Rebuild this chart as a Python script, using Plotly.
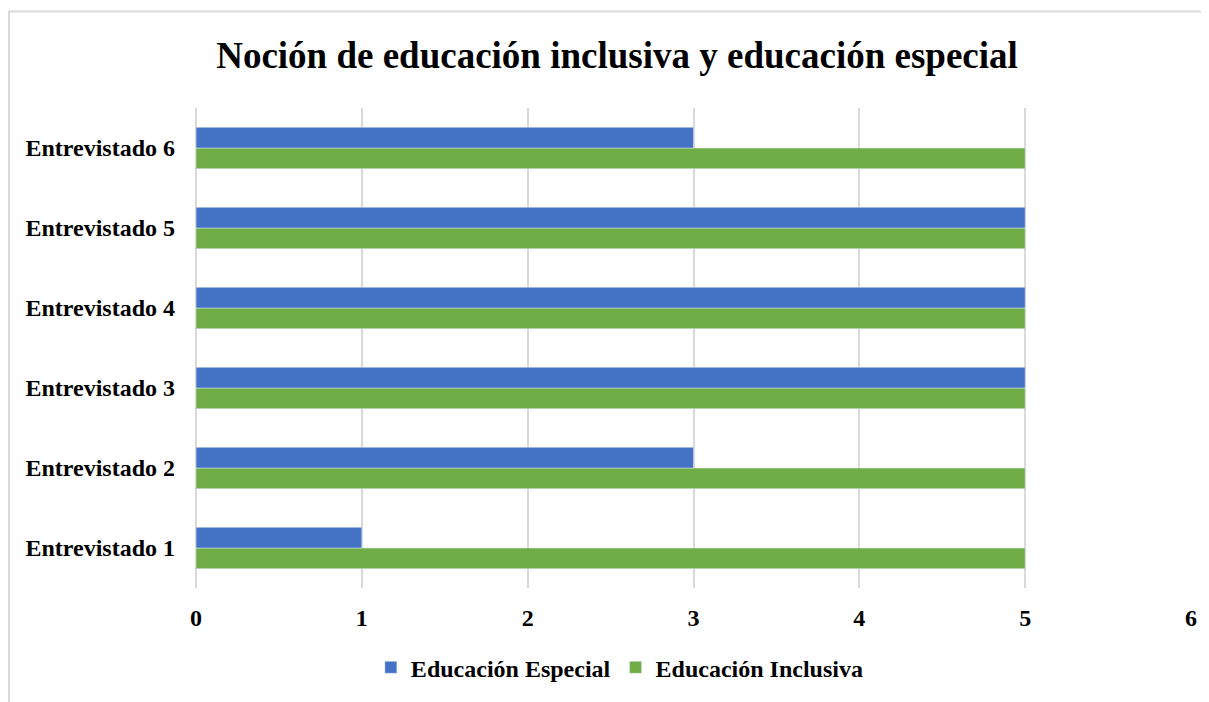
import plotly.graph_objects as go

categories = ["Entrevistado 1", "Entrevistado 2", "Entrevistado 3",
              "Entrevistado 4", "Entrevistado 5", "Entrevistado 6"]
especial = [1, 3, 5, 5, 5, 3]
inclusiva = [5, 5, 5, 5, 5, 5]
x_ticks = [0, 1, 2, 3, 4, 5, 6]

FONT = "Liberation Serif, Times New Roman, serif"

W, H = 1201, 694

fig = go.Figure()
fig.add_trace(go.Bar(
    y=categories, x=inclusiva, orientation="h", name="Educación Inclusiva",
    marker=dict(color="#70AD47"), legendrank=2,
))
fig.add_trace(go.Bar(
    y=categories, x=especial, orientation="h", name="Educación Especial",
    marker=dict(color="#4472C4"), legendrank=1,
))

fig.update_layout(
    width=W, height=H,
    margin=dict(l=188, r=18, t=100, b=112),
    paper_bgcolor="white", plot_bgcolor="white",
    barmode="group", bargap=0.483, bargroupgap=0,
    font=dict(family=FONT, color="black", size=24, weight="bold"),
    title=dict(text="Noción de educación inclusiva y educación especial",
               font=dict(family=FONT, size=37, color="black", weight="bold"),
               x=609 / W, xref="container", xanchor="center",
               y=1 - 47 / H, yref="container", yanchor="middle"),
    legend=dict(orientation="h", x=0.426, xanchor="center", y=-0.166,
                yanchor="middle", font=dict(family=FONT, size=24, weight="bold"),
                itemwidth=30, tracegroupgap=0),
    xaxis=dict(range=[0, 6], tickvals=x_ticks, showgrid=True,
               gridcolor="#D9D9D9", gridwidth=1.5, zeroline=True,
               zerolinecolor="#D9D9D9", zerolinewidth=1.5, showline=False,
               ticks="", ticklabelstandoff=13, fixedrange=True),
    yaxis=dict(categoryorder="array", categoryarray=categories,
               showgrid=False, showline=False, ticks="",
               ticklabelstandoff=20, fixedrange=True),
    shapes=[dict(type="rect", xref="paper", yref="paper",
                 x0=(0 - 188) / 995 + 0.001, x1=1.2, y0=-0.6, y1=(582 - 3) / 482,
                 line=dict(color="#D9D9D9", width=2), fillcolor="rgba(0,0,0,0)",
                 layer="below")],
)

fig.write_html("out.html")
